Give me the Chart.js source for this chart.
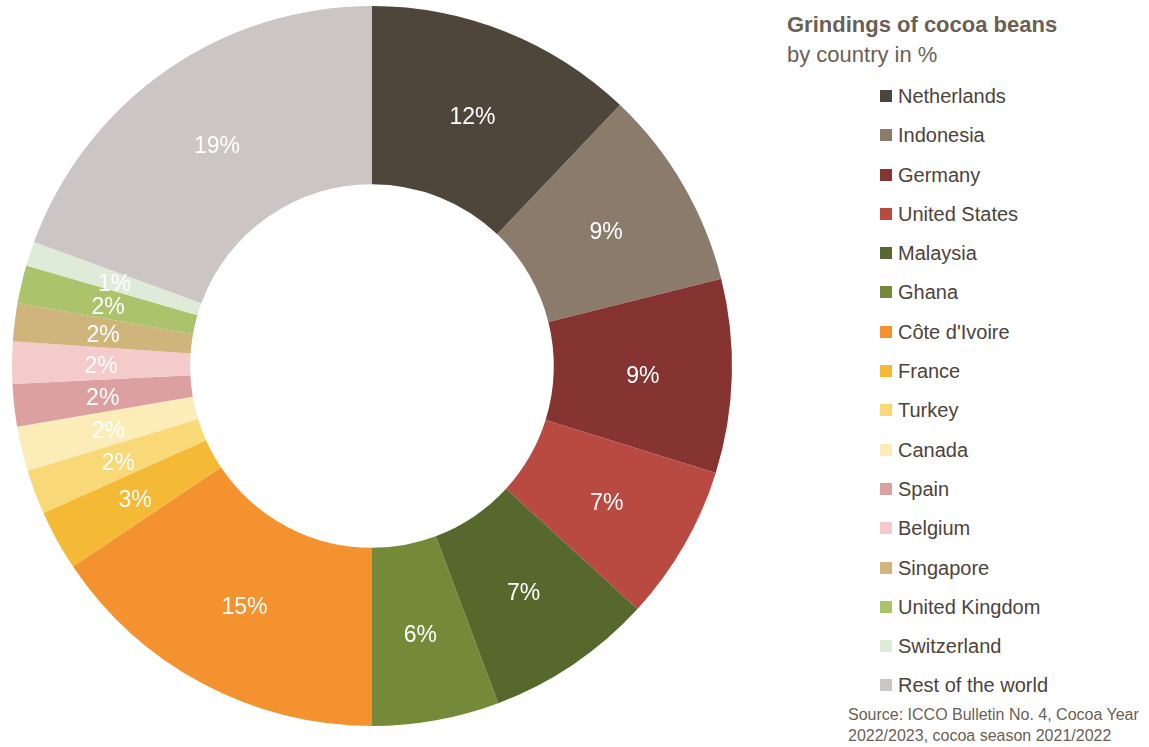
<!DOCTYPE html>
<html>
<head>
<meta charset="utf-8">
<script src="https://cdn.jsdelivr.net/npm/chart.js@4"></script>
<style>
  html, body { margin: 0; padding: 0; background: #fff; }
  body { width: 1149px; height: 747px; position: relative; overflow: hidden;
         font-family: "Liberation Sans", Arial, Helvetica, sans-serif; }
  #chartBox { position: absolute; left: 0; top: 0; width: 744px; height: 732px; }
  #title { position: absolute; left: 787px; top: 10px; color: #6b5f55; font-size: 22px; line-height: 30px; }
  #title b { font-weight: bold; }
  #legend { position: absolute; left: 880px; top: 82px; margin: 0; padding: 0; list-style: none; }
  #legend li { height: 39.3px; display: flex; align-items: flex-start; color: #4d433b; font-size: 20px; line-height: 28px; }
  #legend .box { width: 12px; height: 12px; margin: 8px 6px 0 0; flex: none; }
  #source { position: absolute; left: 848px; top: 704px; color: #6b5f55; font-size: 16px; line-height: 21px; }
</style>
</head>
<body>
<div id="chartBox"><canvas id="chart"></canvas></div>
<div id="title"><b>Grindings of cocoa beans</b><br>by country in %</div>
<ul id="legend"></ul>
<div id="source">Source: ICCO Bulletin No. 4, Cocoa Year<br>2022/2023, cocoa season 2021/2022</div>
<script>
// Countries, clockwise from 12 o'clock
const countries = ['Netherlands', 'Indonesia', 'Germany', 'United States', 'Malaysia', 'Ghana',
  "Côte d'Ivoire", 'France', 'Turkey', 'Canada', 'Spain', 'Belgium', 'Singapore',
  'United Kingdom', 'Switzerland', 'Rest of the world'];

// Share of grindings (%)
const shares = [12.1, 9.0, 8.7, 7.0, 7.5, 5.7, 15.6, 2.7, 2.0, 2.0, 1.9, 1.9, 1.7, 1.7, 1.1, 19.4];

// Labels as printed on the slices
const shareLabels = ['12%', '9%', '9%', '7%', '7%', '6%', '15%', '3%', '2%', '2%', '2%', '2%', '2%', '2%', '1%', '19%'];

const colors = ['#4e453b', '#8b7b6b', '#863431', '#b84a42', '#56682b', '#758a38',
  '#f4922f', '#f4b935', '#f9d877', '#fcecb8', '#dca0a0', '#f5caca', '#cfb47b',
  '#abc46c', '#ddebd8', '#cbc6c3'];

// draw the percentage text in the middle of each slice
const sliceLabels = {
  id: 'sliceLabels',
  afterDatasetsDraw(chart) {
    const ctx = chart.ctx;
    const meta = chart.getDatasetMeta(0);
    ctx.save();
    ctx.fillStyle = '#ffffff';
    ctx.font = '23px "Liberation Sans", Arial, sans-serif';
    ctx.textAlign = 'center';
    ctx.textBaseline = 'middle';
    meta.data.forEach((arc, i) => {
      const p = arc.tooltipPosition();
      ctx.fillText(shareLabels[i], p.x, p.y + 3);
    });
    ctx.restore();
  }
};

new Chart(document.getElementById('chart'), {
  type: 'doughnut',
  data: {
    labels: countries,
    datasets: [{
      data: shares,
      backgroundColor: colors,
      borderWidth: 0
    }]
  },
  options: {
    responsive: true,
    maintainAspectRatio: false,
    animation: false,
    cutout: '50.5%',
    layout: { padding: 6 },
    plugins: {
      legend: { display: false },
      tooltip: { enabled: false }
    }
  },
  plugins: [sliceLabels]
});

// legend list on the right
const legend = document.getElementById('legend');
countries.forEach((name, i) => {
  const li = document.createElement('li');
  const box = document.createElement('span');
  box.className = 'box';
  box.style.background = colors[i];
  li.appendChild(box);
  li.appendChild(document.createTextNode(name));
  legend.appendChild(li);
});
</script>
</body>
</html>
